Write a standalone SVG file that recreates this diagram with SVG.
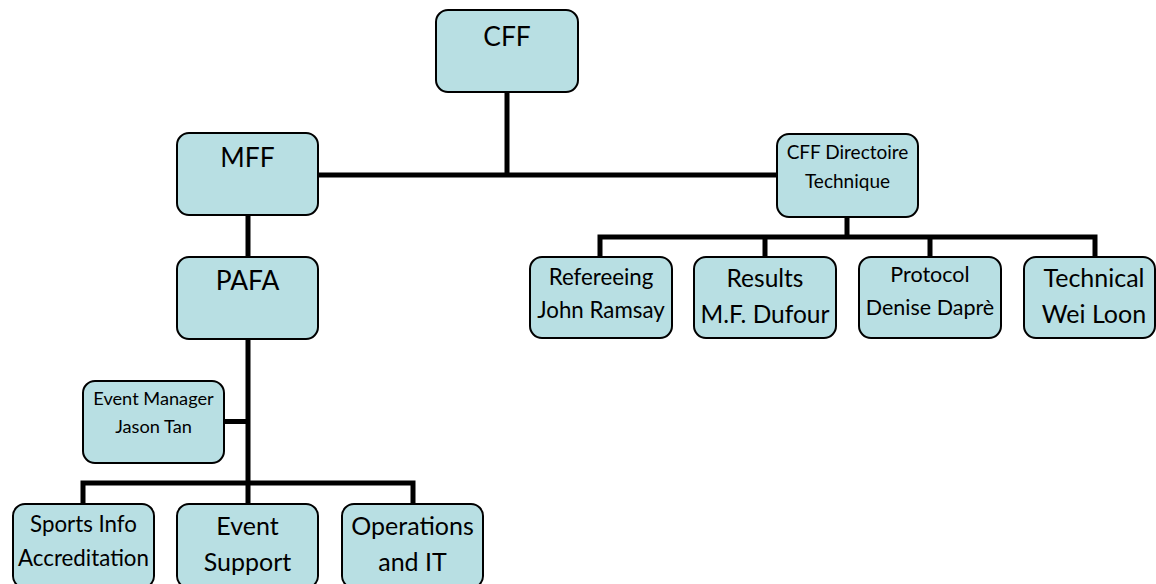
<svg xmlns="http://www.w3.org/2000/svg" width="1156" height="584" viewBox="0 0 1156 584">
<style>
.box{fill:#B8DFE3;stroke:#000;stroke-width:2}
.t{font-family:Lato,"Open Sans",sans-serif;fill:#000;text-anchor:middle}
.c{stroke:#000;stroke-width:5;fill:none;stroke-linecap:square}
</style>
<rect width="1156" height="584" fill="#fff"/>
<g id="connectors">
<path class="c" d="M507 92V175M320 175H776"/>
<path class="c" d="M248 216V256"/>
<path class="c" d="M847 217V237M600 237H1095M600 237V256M765 237V256M930 237V256M1095 237V256"/>
<path class="c" d="M248 339V503M225 421.5H248M83 483H413M83 483V503M413 483V503"/>
</g>
<g id="cff"><rect class="box" x="436" y="10" width="142" height="82" rx="12"/><text class="t" x="507" y="46" font-size="26.4">CFF</text></g>
<g id="mff"><rect class="box" x="177" y="133" width="141" height="82" rx="12"/><text class="t" x="247.5" y="167" font-size="26.4">MFF</text></g>
<g id="directoire"><rect class="box" x="777" y="134" width="141" height="83" rx="12"/><text class="t" x="847.5" y="159" font-size="19">CFF Directoire</text><text class="t" x="847.5" y="188" font-size="19">Technique</text></g>
<g id="pafa"><rect class="box" x="177" y="257" width="141" height="82" rx="12"/><text class="t" x="247.5" y="290" font-size="26.4">PAFA</text></g>
<g id="refereeing"><rect class="box" x="530" y="257" width="142" height="81" rx="12"/><text class="t" x="601" y="285" font-size="22.3">Refereeing</text><text class="t" x="601" y="318" font-size="22.3">John Ramsay</text></g>
<g id="results"><rect class="box" x="694" y="257" width="142" height="81" rx="12"/><text class="t" x="765" y="287" font-size="24.5">Results</text><text class="t" x="765" y="323" font-size="24.5">M.F. Dufour</text></g>
<g id="protocol"><rect class="box" x="859" y="257" width="142" height="81" rx="12"/><text class="t" x="930" y="282" font-size="21.5">Protocol</text><text class="t" x="930" y="315" font-size="21.5">Denise Daprè</text></g>
<g id="technical"><rect class="box" x="1024" y="257" width="131" height="81" rx="12"/><text class="t" x="1094" y="287" font-size="25">Technical</text><text class="t" x="1094" y="323" font-size="25">Wei Loon</text></g>
<g id="eventmanager"><rect class="box" x="83" y="381" width="141" height="82" rx="12"/><text class="t" x="153.5" y="405" font-size="18.2">Event Manager</text><text class="t" x="153.5" y="433" font-size="18.2">Jason Tan</text></g>
<g id="sportsinfo"><rect class="box" x="13" y="504" width="141" height="84" rx="12"/><text class="t" x="83.5" y="532" font-size="22.3">Sports Info</text><text class="t" x="83.5" y="566" font-size="22.3">Accreditation</text></g>
<g id="eventsupport"><rect class="box" x="177" y="504" width="141" height="84" rx="12"/><text class="t" x="247.5" y="535" font-size="25">Event</text><text class="t" x="247.5" y="571" font-size="25">Support</text></g>
<g id="operations"><rect class="box" x="342" y="504" width="141" height="84" rx="12"/><text class="t" x="412.5" y="535" font-size="25">Operations</text><text class="t" x="412.5" y="571" font-size="25">and IT</text></g>
</svg>
